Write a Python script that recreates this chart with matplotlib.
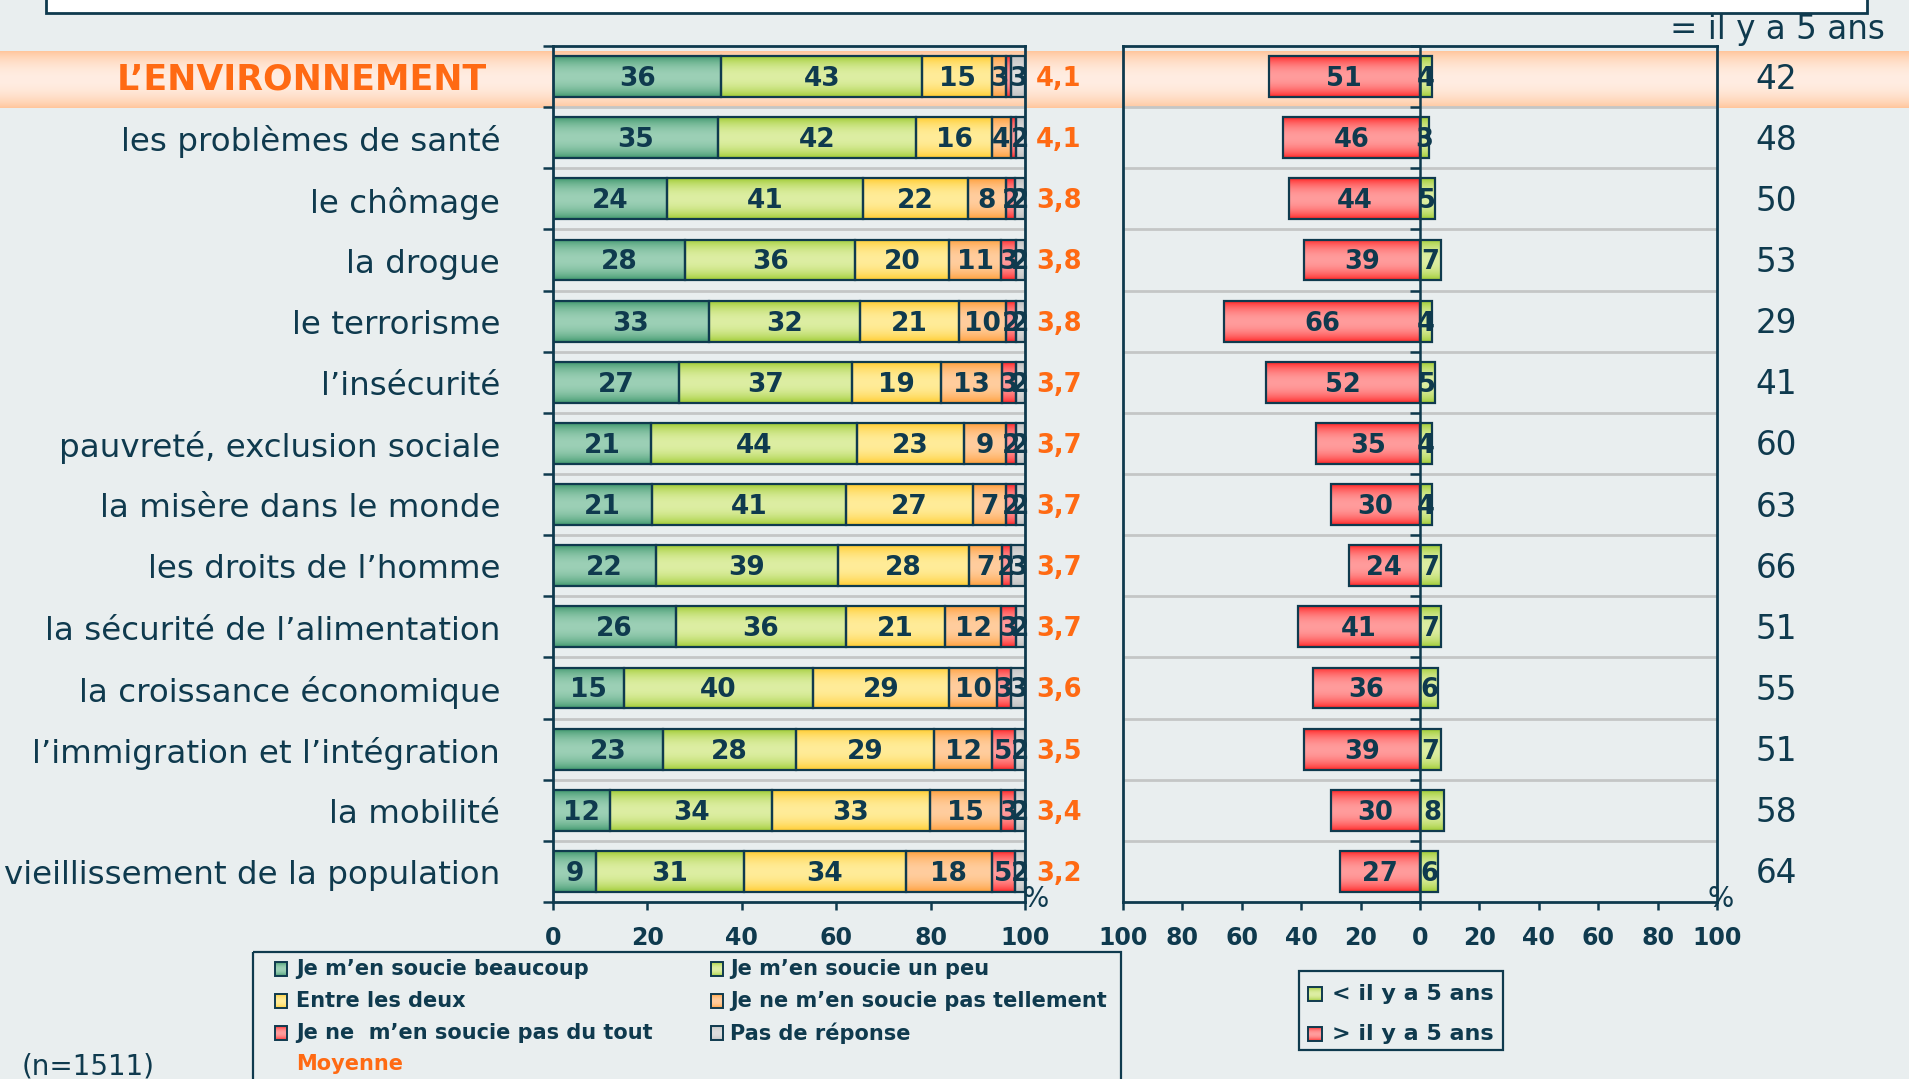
import numpy as np
import matplotlib
matplotlib.use('Agg')
import matplotlib.pyplot as plt
from matplotlib.patches import Rectangle
from matplotlib.colors import to_rgb

categories = ["L’ENVIRONNEMENT", "les problèmes de santé", "le chômage", "la drogue",
              "le terrorisme", "l’insécurité", "pauvreté, exclusion sociale",
              "la misère dans le monde", "les droits de l’homme",
              "la sécurité de l’alimentation", "la croissance économique",
              "l’immigration et l’intégration", "la mobilité",
              "vieillissement de la population"]
beaucoup = [36, 35, 24, 28, 33, 27, 21, 21, 22, 26, 15, 23, 12, 9]
un_peu = [43, 42, 41, 36, 32, 37, 44, 41, 39, 36, 40, 28, 34, 31]
entre = [15, 16, 22, 20, 21, 19, 23, 27, 28, 21, 29, 29, 33, 34]
pas_tellement = [3, 4, 8, 11, 10, 13, 9, 7, 7, 12, 10, 12, 15, 18]
pas_du_tout = [1, 1, 2, 3, 2, 3, 2, 2, 2, 3, 3, 5, 3, 5]
sans_reponse = [3, 2, 2, 2, 2, 2, 2, 2, 3, 2, 3, 2, 2, 2]
moyenne = ["4,1", "4,1", "3,8", "3,8", "3,8", "3,7", "3,7", "3,7", "3,7", "3,7",
           "3,6", "3,5", "3,4", "3,2"]
plus_qu_avant = [51, 46, 44, 39, 66, 52, 35, 30, 24, 41, 36, 39, 30, 27]
moins_qu_avant = [4, 3, 5, 7, 4, 5, 4, 4, 7, 7, 6, 7, 8, 6]
pareil = [42, 48, 50, 53, 29, 41, 60, 63, 66, 51, 55, 51, 58, 64]

legend_labels = ["Je m’en soucie beaucoup", "Je m’en soucie un peu", "Entre les deux",
                 "Je ne m’en soucie pas tellement", "Je ne  m’en soucie pas du tout",
                 "Pas de réponse"]

navy = '#0F3A4E'
orange = '#FF6A13'
bg = '#E9EEEF'
grid_c = '#C4C6C6'
# (edge colour, centre colour) of the gradients
seg_cols = [('#3A9468', '#9CD0B6'), ('#9BC92A', '#DDEEA3'), ('#FFC926', '#FFEC99'),
            ('#FF9B30', '#FFCD9E'), ('#FF1E1E', '#FF9C9C'), ('#BEBEBE', '#DEDEDE')]
red_cols = ('#FF1E1E', '#FF9C9C')
green_cols = ('#9BC92A', '#DDEEA3')

plt.rcParams['font.family'] = ['DejaVu Sans']

W, H = 1909, 1079


def frac(x0, y0, x1, y1):
    return [x0 / W, 1 - y1 / H, (x1 - x0) / W, (y1 - y0) / H]


def gradient_fill(ax, patch, cols, z=2):
    x, y = patch.get_x(), patch.get_y()
    w, h = patch.get_width(), patch.get_height()
    t = np.linspace(0, 1, 64)
    m = np.sin(np.pi * t) ** 0.7
    e, c = np.array(to_rgb(cols[0])), np.array(to_rgb(cols[1]))
    img = (e[None, :] * (1 - m[:, None]) + c[None, :] * m[:, None])[:, None, :]
    im = ax.imshow(img, extent=(x, x + w, y, y + h), aspect='auto', zorder=z,
                   interpolation='bilinear')
    im.set_clip_path(patch)


fig = plt.figure(figsize=(W / 100, H / 100), dpi=100, facecolor=bg)
ax_bg = fig.add_axes([0, 0, 1, 1], zorder=0)
ax1 = fig.add_axes(frac(553, 46, 1025, 902), zorder=1)
ax2 = fig.add_axes(frac(1123, 46, 1717, 902), zorder=1)

# highlighted band for the first row
t = np.linspace(0, 1, 64)
m = np.sin(np.pi * t) ** 0.8
e, c = np.array(to_rgb('#FFC69C')), np.array(to_rgb('#FFEDE2'))
band = (e[None, :] * (1 - m[:, None]) + c[None, :] * m[:, None])[:, None, :]
ax_bg.imshow(band, extent=(0, W, 108, 51), aspect='auto', zorder=0)

# title box (cut off at the top)
ax_bg.add_patch(Rectangle((46, -20), 1821, 33, facecolor='white', edgecolor=navy, lw=2))
ax_bg.text(1885, 29, "= il y a 5 ans", ha='right', va='center', fontsize=23.5, color=navy)
ax_bg.text(22, 1067, "(n=1511)", ha='left', va='center', fontsize=20, color=navy)
ax_bg.text(1036, 899, "%", ha='center', va='center', fontsize=20, color=navy)
ax_bg.text(1721, 899, "%", ha='center', va='center', fontsize=20, color=navy)

y = np.arange(len(categories))
bar_h = 0.67
dy = 0.04   # small downward nudge so the text sits on the row centre

# ---- left chart: stacked 100% bars
series = [beaucoup, un_peu, entre, pas_tellement, pas_du_tout, sans_reponse]
vals = np.array(series, dtype=float)
widths = vals / vals.sum(axis=0) * 100
left = np.zeros(len(categories))
for k in range(len(series)):
    bars = ax1.barh(y, widths[k], left=left, height=bar_h, facecolor='none',
                    edgecolor=navy, linewidth=1.6, zorder=3)
    for i, p in enumerate(bars):
        gradient_fill(ax1, p, seg_cols[k])
        if vals[k, i] >= 2:
            ax1.text(left[i] + widths[k, i] / 2, i + dy, str(int(vals[k, i])), ha='center',
                     va='center', fontsize=19, fontweight='bold', color=navy, zorder=5,
                     clip_on=False)
    left += widths[k]

ax1.hlines(np.arange(0.5, len(categories) - 1, 1), 0, 100, color=grid_c, lw=2, zorder=1)
for i, cat in enumerate(categories):
    if i == 0:
        ax1.text(-14.0, i + 0.05, cat, ha='right', va='center', fontsize=25,
                 fontweight='bold', color=orange, clip_on=False)
    else:
        ax1.text(-11.2, i + 0.07, cat, ha='right', va='center', fontsize=23.4, color=navy,
                 clip_on=False)
    ax1.text(102.3, i + dy, moyenne[i], ha='left', va='center', fontsize=18.5,
             fontweight='bold', color=orange, clip_on=False)

ax1.set_xlim(0, 100)
ax1.set_ylim(len(categories) - 0.5, -0.5)
ax1.set_xticks(range(0, 101, 20))
ax1.set_yticks(np.arange(-0.5, len(categories), 1))
ax1.set_yticklabels([])
ax1.tick_params(axis='y', direction='out', length=7, width=1.8, color=navy)
ax1.tick_params(axis='x', direction='out', length=6, width=1.8, color=navy, pad=11,
                labelsize=17, labelcolor=navy)
for lab in ax1.get_xticklabels():
    lab.set_fontweight('bold')

# ---- right chart: more / less than 5 years ago
red = ax2.barh(y, -np.array(plus_qu_avant), height=bar_h, facecolor='none',
               edgecolor=navy, linewidth=1.6, zorder=3)
green = ax2.barh(y, moins_qu_avant, height=bar_h, facecolor='none',
                 edgecolor=navy, linewidth=1.6, zorder=3)
for i in range(len(categories)):
    gradient_fill(ax2, red[i], red_cols)
    gradient_fill(ax2, green[i], green_cols)
    ax2.text(-plus_qu_avant[i] / 2, i + dy, str(plus_qu_avant[i]), ha='center', va='center',
             fontsize=18.5, fontweight='bold', color=navy, zorder=5)
    ax2.text(moins_qu_avant[i] / 2, i + dy, str(moins_qu_avant[i]), ha='center', va='center',
             fontsize=18.5, fontweight='bold', color=navy, zorder=5)
    ax2.text(120, i + dy, str(pareil[i]), ha='center', va='center', fontsize=23.5,
             color=navy, clip_on=False)

ax2.hlines(np.arange(0.5, len(categories) - 1, 1), -100, 100, color=grid_c, lw=2, zorder=1)
ax2.axvline(0, color=navy, lw=1.8, zorder=4)
ax2.hlines(np.arange(-0.5, len(categories), 1), -3.4, 0, color=navy, lw=1.8,
           zorder=4, clip_on=False)
ax2.set_xlim(-100, 100)
ax2.set_ylim(len(categories) - 0.5, -0.5)
ax2.set_yticks([])
ax2.set_xticks(range(-100, 101, 20))
ax2.set_xticklabels([str(abs(v)) for v in range(-100, 101, 20)])
ax2.tick_params(axis='x', direction='out', length=6, width=1.8, color=navy, pad=11,
                labelsize=17, labelcolor=navy)
for lab in ax2.get_xticklabels():
    lab.set_fontweight('bold')

for ax in (ax1, ax2):
    ax.set_facecolor('none')
    for s in ax.spines.values():
        s.set_color(navy)
        s.set_linewidth(2)

# ---- legends (drawn by hand in pixel coordinates)
ax_bg.add_patch(Rectangle((253, 952), 868, 160, facecolor='none', edgecolor=navy, lw=1.6))
leg_x = [(275, 296), (711, 730)]
leg_y = [969, 1001, 1033]
for k, lab in enumerate(legend_labels):
    mx, tx = leg_x[k % 2]
    yy = leg_y[k // 2]
    r = Rectangle((mx, yy - 7), 12, 14, facecolor='none', edgecolor=navy, lw=1.4, zorder=3)
    ax_bg.add_patch(r)
    gradient_fill(ax_bg, r, seg_cols[k])
    ax_bg.text(tx, yy, lab, ha='left', va='center', fontsize=15, fontweight='bold',
               color=navy)
ax_bg.text(296, 1064, "Moyenne", ha='left', va='center', fontsize=15, fontweight='bold',
           color=orange)

ax_bg.add_patch(Rectangle((1299, 971), 204, 79, facecolor='none', edgecolor=navy, lw=1.6))
for (lab, cols, yy) in [("< il y a 5 ans", green_cols, 994), ("> il y a 5 ans", red_cols, 1034)]:
    r = Rectangle((1308, yy - 7), 14, 14, facecolor='none', edgecolor=navy, lw=1.4, zorder=3)
    ax_bg.add_patch(r)
    gradient_fill(ax_bg, r, cols)
    ax_bg.text(1332, yy, lab, ha='left', va='center', fontsize=16, fontweight='bold',
               color=navy)

ax_bg.set_xlim(0, W)
ax_bg.set_ylim(H, 0)
ax_bg.axis('off')

fig.savefig('out.png', dpi=100, facecolor=bg)
